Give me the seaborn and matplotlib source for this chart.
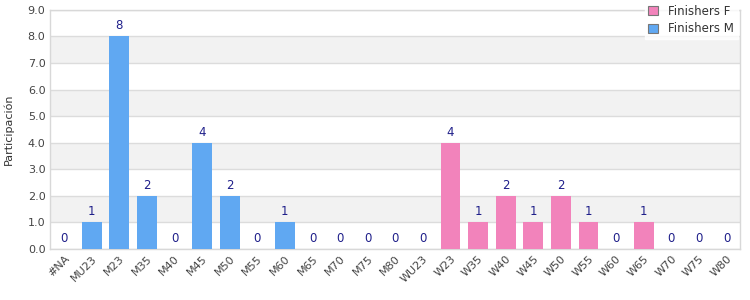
# -------------------------------------------------------------------
# participation per category, finishers M / F
# -------------------------------------------------------------------
import numpy as np
import matplotlib.pyplot as plt
import seaborn as sns
import pandas as pd

# -------------------------------------------------------------------
# data
# -------------------------------------------------------------------
categories = ["#NA", "MU23", "M23", "M35", "M40", "M45", "M50", "M55", "M60", "M65",
              "M70", "M75", "M80", "WU23", "W23", "W35", "W40", "W45", "W50", "W55",
              "W60", "W65", "W70", "W75", "W80"]
values = [0, 1, 8, 2, 0, 4, 2, 0, 1, 0,
          0, 0, 0, 0, 4, 1, 2, 1, 2, 1,
          0, 1, 0, 0, 0]
series = ["Finishers M"] * 14 + ["Finishers F"] * 11
series_order = ["Finishers F", "Finishers M"]
colors = {"Finishers F": "#f283bb", "Finishers M": "#60a8f2"}
yticks = [0, 1, 2, 3, 4, 5, 6, 7, 8, 9]


def main():
    df = pd.DataFrame({"cat": categories, "val": values, "serie": series})

    sns.set_style("white")
    plt.rcParams['font.family'] = ['DejaVu Sans']
    fig = plt.figure(figsize=(7.5, 3), dpi=100)
    ax = fig.add_axes([0.067, 0.17, 0.92, 0.797])

    # alternating bands
    for k in range(0, 9):
        if k % 2 == 1:
            ax.axhspan(k, k + 1, color="#f2f2f2", zorder=0, lw=0)

    sns.barplot(data=df, x="cat", y="val", hue="serie", hue_order=series_order,
                palette=colors, dodge=False, width=0.72, ax=ax, zorder=3,
                saturation=1, legend=True, linewidth=0, edgecolor="none")

    for cont in ax.containers:
        ax.bar_label(cont, fmt="%d", padding=3, fontsize=8.5, color="#1f1f8a")

    ax.set_ylim(0, 9)
    ax.set_xlim(-0.5, len(categories) - 0.5)
    ax.set_yticks(yticks)
    ax.set_yticklabels([f"{v:.1f}" for v in yticks])
    ax.yaxis.grid(True, color="#dcdcdc", lw=1, zorder=1)
    ax.set_axisbelow(True)
    ax.set_xlabel("")
    ax.set_ylabel("Participación", fontsize=8, color="#333333")
    ax.yaxis.set_label_coords(-0.052, 0.5)
    ax.tick_params(axis="both", length=0, labelsize=8, colors="#444444")
    plt.setp(ax.get_xticklabels(), rotation=45, ha="right", rotation_mode="anchor")
    for s in ax.spines.values():
        s.set_color("#d8d8d8")
        s.set_linewidth(1)

    leg = ax.legend(loc="upper right", bbox_to_anchor=(1.005, 1.06), frameon=True,
                    fontsize=8.5, handlelength=0.8, handleheight=0.8, handletextpad=0.9,
                    borderpad=0.3, labelspacing=0.35, fancybox=False)
    leg.get_frame().set_facecolor("white")
    leg.get_frame().set_edgecolor("white")
    for h in leg.legend_handles:
        h.set_edgecolor("#777777")
        h.set_linewidth(0.8)
    for t in leg.get_texts():
        t.set_color("#333333")

    plt.savefig("out.png", dpi=100)


if __name__ == '__main__':
    main()
